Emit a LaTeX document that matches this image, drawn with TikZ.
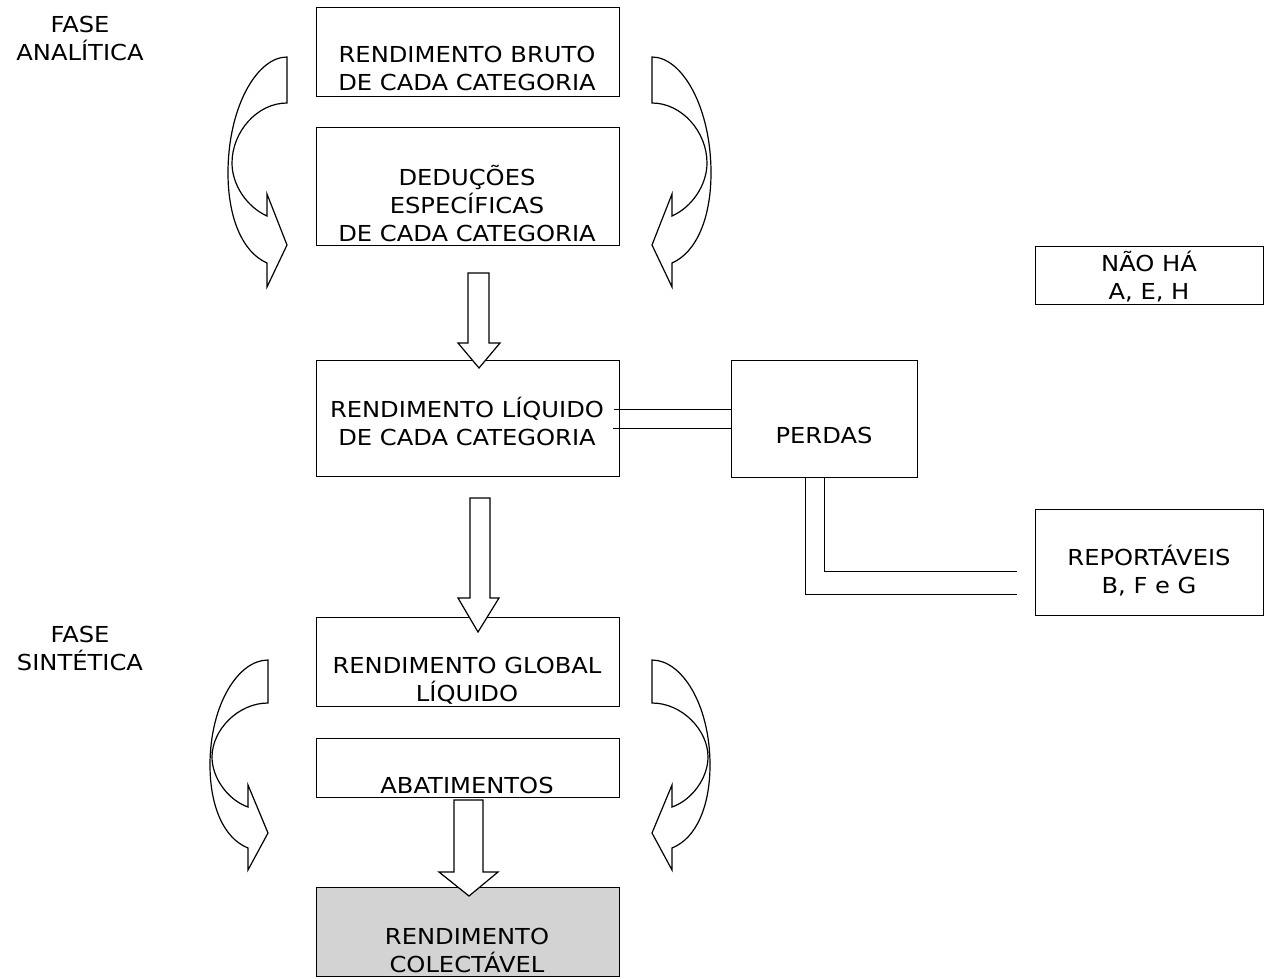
\documentclass[tikz,border=0pt]{standalone}
\usepackage{fontspec}
\setmainfont{DejaVu Sans}[FakeStretch=1.1]
\usetikzlibrary{calc}
\definecolor{boxgray}{RGB}{211,211,211}
\tikzset{
  box/.style={draw, line width=1.3pt, inner sep=0pt, anchor=north west},
  txt/.style={align=center, inner sep=0pt, font=\fontsize{22}{28}\selectfont},
  blk/.style={draw, line width=1.2pt, fill=white, line join=miter},
  conn/.style={line width=1.3pt},
}
\begin{document}
\begin{tikzpicture}[x=1pt,y=-1pt]
\useasboundingbox (0,0) rectangle (1269,978);
% boxes
\node[box, minimum width=303pt, minimum height=89pt] (b1) at (316,7) {};
\node[box, minimum width=303pt, minimum height=118pt] (b2) at (316,127) {};
\node[box, minimum width=303pt, minimum height=116pt] (b3) at (316,360) {};
\node[box, minimum width=186pt, minimum height=117pt] (perdas) at (731,360) {};
\node[box, minimum width=228pt, minimum height=58pt] (nao) at (1035,246) {};
\node[box, minimum width=228pt, minimum height=106pt] (rep) at (1035,509) {};
\node[box, minimum width=303pt, minimum height=89pt] (b4) at (316,617) {};
\node[box, minimum width=303pt, minimum height=59pt] (b5) at (316,738) {};
\node[box, fill=boxgray, minimum width=303pt, minimum height=89pt] (b6) at (316,887) {};
% texts
\node[txt] (t1) at (467,68) {RENDIMENTO BRUTO\\DE CADA CATEGORIA};
\node[txt] (t2) at (467,204) {DEDUÇÕES\\ESPECÍFICAS\\DE CADA CATEGORIA};
\node[txt] (t3) at (467,421) {RENDIMENTO LÍQUIDO\\DE CADA CATEGORIA};
\node[txt] (tp) at (824,435) {PERDAS};
\node[txt] (tn) at (1149,277) {NÃO HÁ\\A, E, H};
\node[txt] (tr) at (1149,571) {REPORTÁVEIS\\B, F e G};
\node[txt] (t4) at (467,681) {RENDIMENTO GLOBAL\\LÍQUIDO};
\node[txt] (t5) at (467,785) {ABATIMENTOS};
\node[txt] (t6) at (467,950) {RENDIMENTO\\COLECTÁVEL};
\node[txt] (fa) at (80,38) {FASE\\ANALÍTICA};
\node[txt] (fs) at (80,648) {FASE\\SINTÉTICA};
% block down arrows
\draw[blk] (468,273) -- (489,273) -- (489,343) -- (500,343) -- (479,368) -- (458,343) -- (468,343) -- cycle;
\draw[blk] (470,498) -- (490,498) -- (490,598) -- (499,598) -- (478,632) -- (458,598) -- (470,598) -- cycle;
\draw[blk] (454,800) -- (483,800) -- (483,872) -- (498,872) -- (469,896) -- (439,872) -- (454,872) -- cycle;
% curved arrows (top)
\begin{scope}[shift={(287,57)}]
\draw[blk,fill=none] (0,0) -- (0,46) .. controls (-30,46) and (-55,75) .. (-55,106)
  .. controls (-55,128) and (-40,150) .. (-20,159) -- (-20,137) -- (0,188) -- (-20,230) -- (-20,206)
  .. controls (-45,195) and (-59,160) .. (-59,116) .. controls (-59,50) and (-30,0) .. (0,0) -- cycle;
\end{scope}
\begin{scope}[shift={(652,57)},xscale=-1]
\draw[blk,fill=none] (0,0) -- (0,46) .. controls (-30,46) and (-55,75) .. (-55,106)
  .. controls (-55,128) and (-40,150) .. (-20,159) -- (-20,137) -- (0,188) -- (-20,230) -- (-20,206)
  .. controls (-45,195) and (-59,160) .. (-59,116) .. controls (-59,50) and (-30,0) .. (0,0) -- cycle;
\end{scope}
% curved arrows (bottom)
\begin{scope}[shift={(268,660)}]
\draw[blk,fill=none] (0,0) -- (0,43) .. controls (-30,43) and (-56,70) .. (-56,97)
  .. controls (-56,118) and (-40,140) .. (-20,147) -- (-20,125) -- (0,173) -- (-20,210) -- (-20,188)
  .. controls (-45,178) and (-58,145) .. (-58,105) .. controls (-58,45) and (-30,0) .. (0,0) -- cycle;
\end{scope}
\begin{scope}[shift={(652,660)},xscale=-1]
\draw[blk,fill=none] (0,0) -- (0,43) .. controls (-30,43) and (-56,70) .. (-56,97)
  .. controls (-56,118) and (-40,140) .. (-20,147) -- (-20,125) -- (0,173) -- (-20,210) -- (-20,188)
  .. controls (-45,178) and (-58,145) .. (-58,105) .. controls (-58,45) and (-30,0) .. (0,0) -- cycle;
\end{scope}
% double connectors
\draw[conn] ($(b3.east)+(-6,-9)$) -- ($(perdas.west)+(0,-9.5)$);
\draw[conn] ($(b3.east)+(-7,10)$) -- ($(perdas.west)+(0,9.5)$);
\coordinate (r1) at ($(rep.west)+(-18,9)$);
\coordinate (r2) at ($(rep.west)+(-18,32)$);
\draw[conn] (perdas.south) |- (r1);
\draw[conn] ($(perdas.south)+(-19,0)$) |- (r2);
\end{tikzpicture}
\end{document}
